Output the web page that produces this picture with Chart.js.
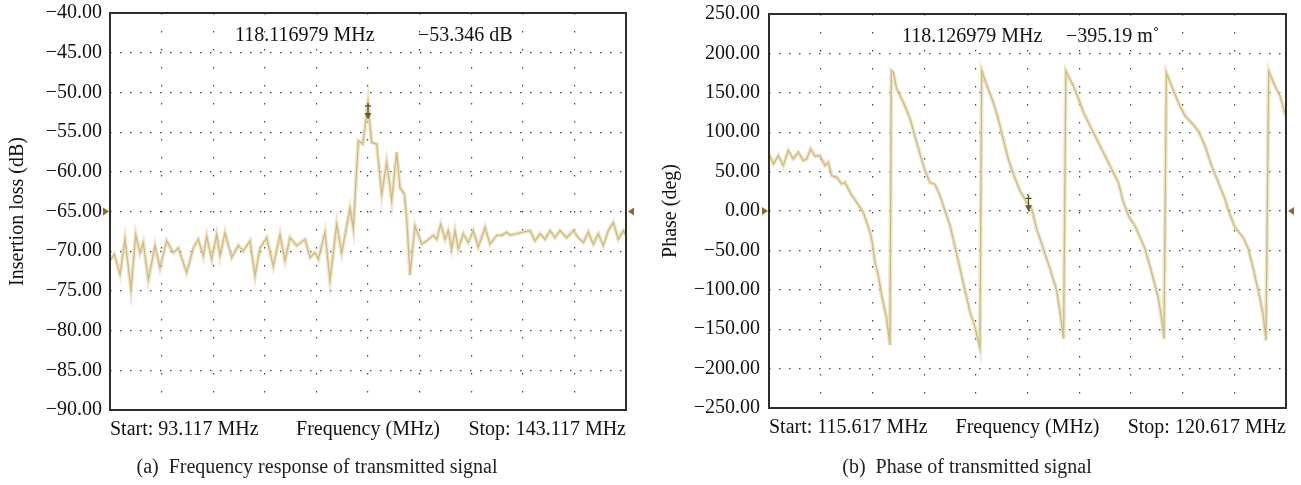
<!DOCTYPE html>
<html>
<head>
<meta charset="utf-8">
<script src="https://cdn.jsdelivr.net/npm/chart.js@4.4.1/dist/chart.umd.min.js"></script>
<style>
body { margin: 0; background: #fff; width: 1301px; height: 485px; position: relative; overflow: hidden; font-family: "Liberation Serif", serif; }
#left { position: absolute; left: 0; top: -7px; }
#right { position: absolute; left: 650px; top: -7px; }
.cap { position: absolute; top: 455px; font-size: 20px; color: #222; white-space: nowrap; transform: translateX(-50%); }
</style>
</head>
<body>
<canvas id="left" width="650" height="485"></canvas>
<canvas id="right" width="651" height="485"></canvas>
<div class="cap" style="left:317px">(a)&nbsp; Frequency response of transmitted signal</div>
<div class="cap" style="left:967px">(b)&nbsp; Phase of transmitted signal</div>
<script>
// (a) insertion loss trace, MHz / dB
const freqA = [93.117, 93.534, 94.086, 94.571, 95.152, 95.607, 96.024, 96.344, 96.828, 97.478,
  97.962, 98.611, 99.251, 99.735, 100.549, 101.189, 101.673, 102.158, 102.487, 102.972,
  103.456, 103.776, 104.260, 104.910, 105.549, 106.034, 106.683, 107.167, 107.652, 108.301,
  108.940, 109.590, 110.074, 110.559, 111.208, 112.012, 112.497, 112.981, 113.301, 113.950,
  114.435, 115.084, 115.568, 116.373, 116.692, 117.177, 117.603, 117.826, 118.117, 118.311,
  118.476, 118.960, 119.445, 119.929, 120.414, 120.898, 121.218, 121.635, 121.867, 122.187,
  122.672, 123.321, 123.805, 124.445, 124.775, 125.162, 125.579, 125.899, 126.228, 126.548,
  126.868, 127.352, 127.837, 128.321, 128.806, 129.455, 129.939, 130.589, 131.073, 131.558,
  131.877, 132.527, 133.166, 133.815, 134.300, 134.784, 135.269, 135.753, 136.238, 136.722,
  137.371, 138.011, 138.495, 138.980, 139.465, 139.949, 140.434, 140.918, 141.403, 141.887,
  142.372, 142.856, 143.117];
const lossA = [-71.2, -70.4, -72.9, -68.5, -74.8, -67.9, -70.2, -68.9, -73.6, -69.3,
  -72.1, -68.7, -70.2, -69.6, -72.7, -69.6, -68.5, -70.6, -68.1, -71.0,
  -67.9, -70.6, -67.7, -70.8, -69.3, -70.0, -68.7, -73.1, -69.6, -68.3,
  -71.9, -67.9, -71.2, -68.3, -69.3, -68.5, -70.8, -70.2, -71.0, -67.6,
  -73.7, -66.6, -70.2, -64.6, -67.2, -56.1, -56.5, -54.4, -51.2, -54.2,
  -56.3, -56.5, -62.8, -58.8, -63.6, -57.5, -62.0, -62.8, -65.8, -73.0,
  -66.8, -69.1, -68.7, -68.0, -68.5, -66.6, -68.5, -67.4, -69.7, -67.4,
  -69.7, -67.8, -68.9, -67.4, -69.5, -67.0, -69.1, -68.0, -68.0, -67.6,
  -68.0, -67.8, -67.6, -67.4, -68.7, -67.8, -68.5, -67.4, -68.3, -67.4,
  -68.3, -67.4, -68.3, -68.9, -67.6, -69.1, -67.8, -69.3, -67.4, -66.4,
  -68.5, -67.4, -68.0];

// (b) phase trace, MHz / deg
const freqB = [115.617, 115.659, 115.707, 115.755, 115.804, 115.852, 115.900, 115.949, 115.982, 116.020,
  116.062, 116.110, 116.159, 116.190, 116.223, 116.272, 116.320, 116.352, 116.400, 116.465,
  116.529, 116.594, 116.616, 116.642, 116.674, 116.707, 116.755, 116.787, 116.800, 116.819,
  116.852, 116.916, 116.981, 117.045, 117.126, 117.174, 117.222, 117.271, 117.319, 117.367,
  117.415, 117.464, 117.512, 117.561, 117.609, 117.657, 117.674, 117.739, 117.787, 117.835,
  117.883, 117.931, 117.980, 118.044, 118.109, 118.157, 118.206, 118.270, 118.335, 118.399,
  118.431, 118.466, 118.488, 118.561, 118.625, 118.658, 118.738, 118.835, 118.915, 118.996,
  119.045, 119.077, 119.093, 119.157, 119.254, 119.318, 119.383, 119.415, 119.437, 119.460,
  119.511, 119.576, 119.640, 119.704, 119.769, 119.833, 119.898, 119.963, 120.027, 120.060,
  120.124, 120.205, 120.252, 120.301, 120.365, 120.397, 120.423, 120.450, 120.510, 120.559,
  120.617];
const phaseB = [72.5, 59.7, 70.3, 57.6, 76.7, 66.1, 74.6, 64.0, 66.1, 78.8,
  69.5, 70.3, 57.6, 61.9, 44.9, 42.8, 34.3, 36.4, 23.7, 11.0,
  -1.7, -27, -40, -65, -82, -107, -137, -170, 178, 176,
  155, 138, 117, 87, 51, 36, 34, 19.5, 0.4, -18,
  -45, -73, -100, -128, -147, -174, 178, 154, 137.6, 116.5,
  91, 66, 47, 25.7, 11, 3, -23, -48, -73.5, -101,
  -128, -162, 177.6, 158.6, 137.6, 125, 104, 78.5, 57.4, 36,
  11, 0.4, -6, -19, -48, -78, -111, -137, -162, 175.5,
  158.6, 137.6, 120.7, 112, 101.7, 82.7, 57.4, 36.3, 15.2, 0.4,
  -21, -34, -48, -73.5, -111, -132, -164, 177.6, 158.6, 146,
  120];

const yTicksA = [-90, -85, -80, -75, -70, -65, -60, -55, -50, -45, -40];
const yTicksB = [-250, -200, -150, -100, -50, 0, 50, 100, 150, 200, 250];
const xLabelsA = ["Start: 93.117 MHz", "Frequency (MHz)", "Stop: 143.117 MHz"];
const xLabelsB = ["Start: 115.617 MHz", "Frequency (MHz)", "Stop: 120.617 MHz"];
const markerA = { freq: 118.116979, value: -53.346, text: ["118.116979 MHz", "\u221253.346 dB"] };
const markerB = { freq: 118.126979, value: -0.395, text: ["118.126979 MHz", "\u2212395.19 m\u02da"] };
const refA = -65;
const refB = 0;

const FONT = "Liberation Serif";

function fmt(v) {
    return (v < 0 ? "\u2212" : "") + Math.abs(v).toFixed(2);
}

var overlay = {
    id: "overlay",
    afterDraw: function (chart, args, o) {
        var ctx = chart.ctx, a = chart.chartArea;
        var sx = chart.scales.x, sy = chart.scales.y;
        ctx.save();
        // frame
        ctx.strokeStyle = "#2e2e2e";
        ctx.lineWidth = 2;
        ctx.strokeRect(a.left, a.top, a.right - a.left, a.bottom - a.top);
        // reference level arrows
        var ry = sy.getPixelForValue(o.ref);
        ctx.fillStyle = "#8c6a2a";
        ctx.beginPath();
        ctx.moveTo(a.left - 1, ry); ctx.lineTo(a.left - 7, ry - 4); ctx.lineTo(a.left - 7, ry + 4);
        ctx.fill();
        ctx.beginPath();
        ctx.moveTo(a.right + 2, ry); ctx.lineTo(a.right + 8, ry - 4); ctx.lineTo(a.right + 8, ry + 4);
        ctx.fill();
        // marker
        var mx = sx.getPixelForValue(o.marker.freq), my = sy.getPixelForValue(o.marker.value);
        ctx.strokeStyle = "#5a4a28";
        ctx.lineWidth = 1.2;
        ctx.beginPath();
        ctx.moveTo(mx, my - 16); ctx.lineTo(mx, my);
        ctx.moveTo(mx - 3, my - 13); ctx.lineTo(mx + 3, my - 13);
        ctx.stroke();
        ctx.fillStyle = "#6a5a30";
        ctx.beginPath();
        ctx.moveTo(mx, my); ctx.lineTo(mx - 3.5, my - 6); ctx.lineTo(mx + 3.5, my - 6);
        ctx.fill();
        // marker readout
        ctx.fillStyle = "#111";
        ctx.font = "20px '" + FONT + "'";
        ctx.textBaseline = "middle";
        ctx.textAlign = "left";
        ctx.fillText(o.marker.text[0], a.left + o.textX[0], a.top + 23);
        ctx.fillText(o.marker.text[1], a.left + o.textX[1], a.top + 23);
        ctx.restore();
    }
};

function makeChart(id, p) {
    var pts = p.freq.map(function (f, i) { return { x: f, y: p.vals[i] }; });
    var span = p.xmax - p.xmin;
    return new Chart(document.getElementById(id), {
        type: "line",
        data: {
            datasets: [
                { data: pts, borderColor: "rgba(228,212,165,0.6)", borderWidth: 4, pointRadius: 0, tension: 0 },
                { data: pts, borderColor: "#a8945c", borderWidth: 1.3, pointRadius: 0, tension: 0 }
            ]
        },
        options: {
            responsive: false,
            animation: false,
            devicePixelRatio: 1,
            layout: { padding: p.pad },
            plugins: {
                legend: { display: false },
                tooltip: { enabled: false },
                overlay: { ref: p.ref, marker: p.marker, textX: p.textX }
            },
            scales: {
                x: {
                    type: "linear",
                    min: p.xmin,
                    max: p.xmax,
                    afterBuildTicks: function (s) {
                        var t = [];
                        for (var i = 0; i <= 10; i++) t.push({ value: p.xmin + span * i / 10 });
                        s.ticks = t;
                    },
                    ticks: {
                        autoSkip: false, maxRotation: 0, minRotation: 0, align: "inner", padding: 8,
                        color: "#111", font: { family: FONT, size: 20 },
                        callback: function (v, i) {
                            if (i === 0) return p.xLabels[0];
                            if (i === 5) return p.xLabels[1];
                            if (i === 10) return p.xLabels[2];
                            return "";
                        }
                    },
                    grid: { color: "#444", lineWidth: 1.2, drawTicks: false },
                    border: { display: false, dash: [1.5, 16.5] }
                },
                y: {
                    min: p.ymin,
                    max: p.ymax,
                    afterBuildTicks: function (s) {
                        s.ticks = p.yTicks.map(function (v) { return { value: v }; });
                    },
                    afterFit: function (s) { s.width = p.yWidth; },
                    ticks: {
                        padding: p.yPad, color: "#111", font: { family: FONT, size: 20 },
                        callback: function (v) { return fmt(v); }
                    },
                    grid: { color: "#444", lineWidth: 1.2, drawTicks: false },
                    border: { display: false, dash: [1.5, 8.5] },
                    title: {
                        display: true, text: p.yTitle, color: "#111",
                        font: { family: FONT, size: 20 }, padding: { top: p.titlePad, bottom: 0 }
                    }
                }
            }
        },
        plugins: [overlay]
    });
}

makeChart("left", {
    freq: freqA, vals: lossA, xmin: 93.117, xmax: 143.117, ymin: -90, ymax: -40,
    yTicks: yTicksA, xLabels: xLabelsA, yTitle: "Insertion loss (dB)",
    yWidth: 110, yPad: 8, titlePad: 6,
    pad: { left: 0, right: 24, top: 13, bottom: 28 },
    ref: refA, marker: markerA, textX: [125, 308]
});

makeChart("right", {
    freq: freqB, vals: phaseB, xmin: 115.617, xmax: 120.617, ymin: -250, ymax: 250,
    yTicks: yTicksB, xLabels: xLabelsB, yTitle: "Phase (deg)",
    yWidth: 119, yPad: 9, titlePad: 9,
    pad: { left: 0, right: 15, top: 12, bottom: 30 },
    ref: refB, marker: markerB, textX: [133, 297]
});
</script>
</body>
</html>
